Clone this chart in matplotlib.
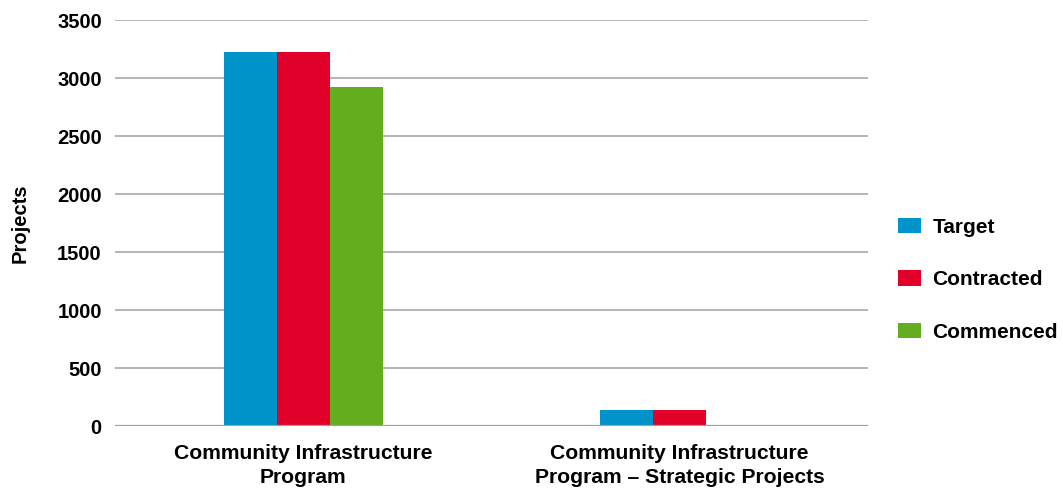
import numpy as np
import matplotlib.pyplot as plt

plt.rcParams['font.family'] = ['Liberation Sans', 'DejaVu Sans']
plt.rcParams['font.weight'] = 'bold'

# Projects per program
programs = ["Community Infrastructure\nProgram",
            "Community Infrastructure\nProgram \u2013 Strategic Projects"]
series = ["Target", "Contracted", "Commenced"]
target = [3224, 136]
contracted = [3224, 136]
commenced = [2922, 0]
colors = ["#0093c9", "#e1002a", "#63ad1f"]

fig = plt.figure(figsize=(10.63, 4.88), dpi=100)
ax = fig.add_axes([115 / 1063, 1 - 426 / 488, (868 - 115) / 1063, (426 - 20) / 488])

x = np.arange(len(programs))
w = 0.141
for i, (vals, name, c) in enumerate(zip([target, contracted, commenced], series, colors)):
    ax.bar(x + (i - 1) * w, vals, width=w, color=c, label=name, zorder=3)

ax.set_xlim(-0.5, 1.5)
ax.set_ylim(0, 3500)
ax.set_yticks(range(0, 3501, 500))
ax.grid(axis='y', color='#b4b4b4', linewidth=1.4, zorder=0)
ax.axhline(0, color='#a0a0a0', linewidth=1.6, zorder=4)
ax.set_xticks(x)
ax.set_xticklabels(programs, fontsize=15.2, fontweight='bold', linespacing=1.32)
ax.tick_params(axis='y', labelsize=14.5, length=0, pad=9.5)
ax.tick_params(axis='x', length=0, pad=13)
for s in ax.spines.values():
    s.set_visible(False)
ax.set_ylabel("Projects", fontsize=14.5, fontweight='bold', labelpad=20)

leg = ax.legend(loc='center left', bbox_to_anchor=(1.015, 0.36), frameon=False,
                prop={'size': 15, 'weight': 'bold'}, handlelength=1.1,
                handleheight=0.75, labelspacing=1.6, handletextpad=0.55)

fig.savefig("out.png", dpi=100)
